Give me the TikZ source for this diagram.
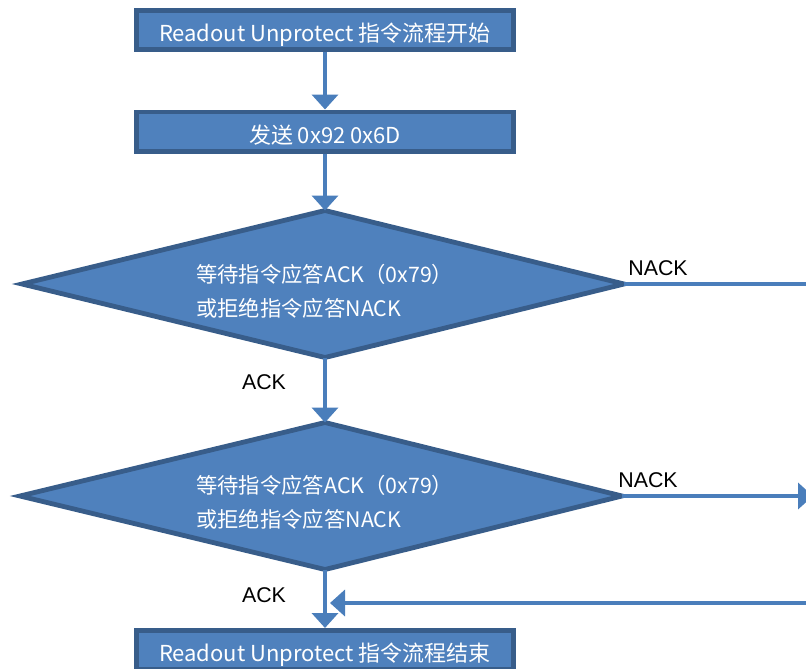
\documentclass[tikz,border=0pt]{standalone}
\usepackage{fontspec}
\newfontfamily\cjk{Noto Sans CJK SC}
\newfontfamily\arial{Liberation Sans}
\usetikzlibrary{arrows.meta}
\definecolor{fillblue}{HTML}{4F81BD}
\definecolor{edgeblue}{HTML}{385D8A}
\definecolor{linkblue}{HTML}{4A7EBB}
\begin{document}
\begin{tikzpicture}[x=0.75pt,y=-0.75pt,
  boxst/.style={draw=edgeblue,fill=fillblue,line width=3.4pt,rectangle,
    minimum width=283pt,minimum height=29.6pt,inner sep=0pt,
    text height=17.8pt,text depth=0pt,
    text=white,font=\cjk\fontsize{16.5pt}{20pt}\selectfont},
  diamst/.style={draw=edgeblue,fill=fillblue,line width=3.6pt,line join=miter},
  dtext/.style={text=white,align=left,anchor=west,inner sep=0pt,
    font=\cjk\fontsize{16pt}{25.5pt}\selectfont},
  lbl/.style={text=black,inner sep=0pt,font=\arial\fontsize{16pt}{19pt}\selectfont},
  conn/.style={draw=linkblue,line width=3.4pt},
  link/.style={conn,-{Triangle[length=11.25pt,width=19.5pt]}}]
\useasboundingbox (0,0) rectangle (806,668);
\clip (0,0) rectangle (806,668);
% boxes
\node[boxst] (start) at (325,30) {Readout Unprotect 指令流程开始};
\node[boxst] (send) at (325,131.5) {发送 0x92 0x6D};
\node[boxst] (finish) at (325,650) {Readout Unprotect 指令流程结束};
% diamond 1
\coordinate (d1t) at (325,210.5);
\coordinate (d1b) at (325,357.5);
\coordinate (d1l) at (22,284);
\coordinate (d1r) at (624,284);
\draw[diamst] (d1t) -- (d1r) -- (d1b) -- (d1l) -- cycle;
\node[dtext] (q1) at (196,291.5) {等待指令应答ACK（0x79）\\或拒绝指令应答NACK};
% diamond 2
\coordinate (d2t) at (325,422.5);
\coordinate (d2b) at (325,569.5);
\coordinate (d2l) at (20,496);
\coordinate (d2r) at (622,496);
\draw[diamst] (d2t) -- (d2r) -- (d2b) -- (d2l) -- cycle;
\node[dtext] (q2) at (196,502) {等待指令应答ACK（0x79）\\或拒绝指令应答NACK};
% free ends
\coordinate (n1end) at (815,284);
\coordinate (n2end) at (813,496);
\coordinate (retstart) at (815,603);
\coordinate (mergept) at (330,603);
% connectors
\draw[link] (start) -- (send);
\draw[link] (send) -- (d1t);
\draw[link] (d1b) -- (d2t);
\draw[link] (d2b) -- (finish);
\draw[conn] (d1r) -- (n1end);
\draw[link] (d2r) -- (n2end);
\draw[link] (retstart) -- (mergept);
% labels
\node[lbl] (nack1) at (658,268) {NACK};
\node[lbl] (nack2) at (648,480) {NACK};
\node[lbl] (ack1) at (264,382) {ACK};
\node[lbl] (ack2) at (264,595) {ACK};
\end{tikzpicture}
\end{document}
